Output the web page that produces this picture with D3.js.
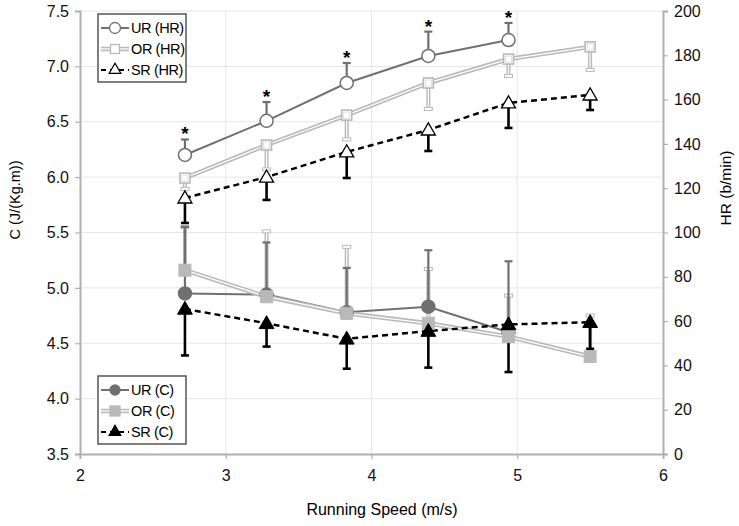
<!DOCTYPE html>
<html><head><meta charset="utf-8">
<script src="https://cdn.jsdelivr.net/npm/d3@7"></script>
<style>body{margin:0;background:#fff}svg{font-family:"Liberation Sans",Arial,Helvetica,sans-serif}</style>
</head><body>
<svg id="c" width="739" height="526"></svg>
<script>
const speeds = [2.72, 3.28, 3.83, 4.39, 4.94, 5.50];
const urHR = [135, 150.4, 167.5, 179.7, 186.9];
const urHRerr = [7, 8.5, 9, 11, 7.7];
const orHR = [124.6, 139.5, 153, 167.5, 178.3, 183.8];
const orHRerr = [5, 11, 11, 11.7, 7.6, 10.4];
const srHR = [115.6, 125, 136.4, 146.3, 158.5, 162.1];
const srHRerr = [11.3, 10.3, 11.8, 9.5, 11.3, 6.8];
const urC = [4.95, 4.94, 4.78, 4.83, 4.60];
const urCerr = [0.60, 0.47, 0.40, 0.51, 0.64];
const orC = [5.16, 4.92, 4.77, 4.68, 4.56, 4.38];
const orCerr = [0.39, 0.59, 0.60, 0.49, 0.37, 0.37];
const srC = [4.81, 4.68, 4.54, 4.61, 4.67, 4.69];
const srCerr = [0.42, 0.21, 0.27, 0.33, 0.43, 0.24];
const xTicks = [2, 3, 4, 5, 6];
const cTicks = [3.5, 4.0, 4.5, 5.0, 5.5, 6.0, 6.5, 7.0, 7.5];
const hrTicks = [0, 20, 40, 60, 80, 100, 120, 140, 160, 180, 200];

const svg = d3.select("#c");
const L = 80, R = 663, T = 11, B = 454;
const x = d3.scaleLinear().domain([2, 6]).range([L, R]);
const yC = d3.scaleLinear().domain([3.5, 7.5]).range([B, T]);
const yH = d3.scaleLinear().domain([0, 200]).range([B, T]);

const UR = "#707070", ORc = "#b9b9b9", SR = "#000";

// grid
const g = svg.append("g");
g.selectAll(".hg").data(cTicks.slice(1)).join("line")
  .attr("x1", L).attr("x2", R).attr("y1", d => yC(d)).attr("y2", d => yC(d))
  .attr("stroke", "#e6e6e6").attr("stroke-width", 1);
g.selectAll(".vg").data(xTicks.slice(1, -1)).join("line")
  .attr("x1", d => x(d)).attr("x2", d => x(d)).attr("y1", T).attr("y2", B)
  .attr("stroke", "#e6e6e6").attr("stroke-width", 1);

// axes
function styleAxis(sel) {
  sel.select(".domain").attr("stroke", "#b0b0b0").attr("stroke-width", 2);
  sel.selectAll(".tick line").attr("stroke", "#b0b0b0").attr("stroke-width", 1.2);
  sel.selectAll("text").attr("font-size", 16).attr("fill", "#111")
    .attr("font-family", "'Liberation Sans', Arial, sans-serif");
}
const axL = svg.append("g").attr("transform", `translate(${L},0)`)
  .call(d3.axisLeft(yC).tickValues(cTicks).tickFormat(d3.format(".1f")).tickSizeOuter(0).tickSize(5).tickPadding(6));
styleAxis(axL);
const axR = svg.append("g").attr("transform", `translate(${R},0)`)
  .call(d3.axisRight(yH).tickValues(hrTicks).tickSizeOuter(0).tickSize(5).tickPadding(6));
styleAxis(axR);
const axB = svg.append("g").attr("transform", `translate(0,${B})`)
  .call(d3.axisBottom(x).tickValues(xTicks).tickFormat(d3.format("d")).tickSizeOuter(0).tickSize(5).tickPadding(11));
styleAxis(axB);

// titles
svg.append("text").attr("transform", "translate(20,200) rotate(-90)").attr("text-anchor", "middle")
  .attr("font-size", 14.5).text("C (J/(Kg.m))");
svg.append("text").attr("transform", "translate(731,188) rotate(-90)").attr("text-anchor", "middle")
  .attr("font-size", 15.5).text("HR (b/min)");
svg.append("text").attr("x", 382).attr("y", 515).attr("text-anchor", "middle")
  .attr("font-size", 16).text("Running Speed (m/s)");

// helpers
function errBar(data, errs, yS, dir, style) {
  const gg = svg.append("g");
  data.forEach((v, i) => {
    const xi = x(speeds[i]);
    const y0 = yS(v), y1 = yS(v + dir * errs[i]);
    if (style === "double") {
      gg.append("line").attr("x1", xi).attr("x2", xi).attr("y1", y0).attr("y2", y1)
        .attr("stroke", ORc).attr("stroke-width", 4);
      gg.append("line").attr("x1", xi).attr("x2", xi).attr("y1", y0).attr("y2", y1)
        .attr("stroke", "#fff").attr("stroke-width", 1.2);
      gg.append("rect").attr("x", xi - 4).attr("y", y1 - 1.5).attr("width", 8).attr("height", 3)
        .attr("fill", "#fff").attr("stroke", ORc).attr("stroke-width", 1);
    } else {
      gg.append("line").attr("x1", xi).attr("x2", xi).attr("y1", y0).attr("y2", y1)
        .attr("stroke", style.c).attr("stroke-width", style.w);
      gg.append("line").attr("x1", xi - 4).attr("x2", xi + 4).attr("y1", y1).attr("y2", y1)
        .attr("stroke", style.c).attr("stroke-width", style.w);
    }
  });
}
function seriesLine(data, yS, kind) {
  const line = d3.line().x((d, i) => x(speeds[i])).y(d => yS(d));
  if (kind === "UR") {
    svg.append("path").attr("d", line(data)).attr("fill", "none").attr("stroke", UR).attr("stroke-width", 2);
  } else if (kind === "OR") {
    svg.append("path").attr("d", line(data)).attr("fill", "none").attr("stroke", ORc).attr("stroke-width", 4.5);
    svg.append("path").attr("d", line(data)).attr("fill", "none").attr("stroke", "#fff").attr("stroke-width", 1.3);
  } else {
    svg.append("path").attr("d", line(data)).attr("fill", "none").attr("stroke", SR)
      .attr("stroke-width", 2.5).attr("stroke-dasharray", "6,4");
  }
}
const tri = d3.symbol().type(d3.symbolTriangle);
function markers(data, yS, kind, filled) {
  const gg = svg.append("g");
  data.forEach((v, i) => {
    const xi = x(speeds[i]), yi = yS(v);
    if (kind === "UR") {
      gg.append("circle").attr("cx", xi).attr("cy", yi).attr("r", filled ? 6.5 : 6.5)
        .attr("fill", filled ? UR : "#fff").attr("stroke", UR).attr("stroke-width", 1.5);
    } else if (kind === "OR") {
      const s = filled ? 12 : 10;
      gg.append("rect").attr("x", xi - s / 2).attr("y", yi - s / 2).attr("width", s).attr("height", s)
        .attr("fill", filled ? ORc : "#fff").attr("stroke", ORc).attr("stroke-width", filled ? 1 : 1.6);
      if (!filled) gg.append("rect").attr("x", xi - s / 2 + 2).attr("y", yi - s / 2 + 2).attr("width", s - 4).attr("height", s - 4)
        .attr("fill", "none").attr("stroke", "#d8d8d8").attr("stroke-width", 0.8);
    } else {
      gg.append("path").attr("d", tri.size(filled ? 95 : 85)()).attr("transform", `translate(${xi},${yi + 1})`)
        .attr("fill", filled ? SR : "#fff").attr("stroke", SR).attr("stroke-width", filled ? 1 : 1.3);
    }
  });
}

// HR series
errBar(orHR, orHRerr, yH, -1, "double");
errBar(urHR, urHRerr, yH, 1, {c: UR, w: 2.2});
errBar(srHR, srHRerr, yH, -1, {c: SR, w: 2.6});
seriesLine(urHR, yH, "UR");
seriesLine(orHR, yH, "OR");
seriesLine(srHR, yH, "SR");
markers(urHR, yH, "UR", false);
markers(orHR, yH, "OR", false);
markers(srHR, yH, "SR", false);
// asterisks
svg.append("g").selectAll("text").data(urHR).join("text")
  .attr("x", (d, i) => x(speeds[i])).attr("y", (d, i) => yH(d + urHRerr[i]) + 1)
  .attr("text-anchor", "middle").attr("font-size", 19).attr("font-weight", "bold").text("*");

// C series
errBar(orC, orCerr, yC, 1, "double");
errBar(urC, urCerr, yC, 1, {c: UR, w: 2.2});
errBar(srC, srCerr, yC, -1, {c: SR, w: 2.6});
seriesLine(urC, yC, "UR");
seriesLine(orC, yC, "OR");
seriesLine(srC, yC, "SR");
markers(urC, yC, "UR", true);
markers(orC, yC, "OR", true);
markers(srC, yC, "SR", true);

// legends
function legend(y0, labels, filled) {
  const lg = svg.append("g");
  lg.append("rect").attr("x", 98).attr("y", y0).attr("width", 88).attr("height", 68)
    .attr("fill", "#fff").attr("stroke", "#555").attr("stroke-width", 1.5);
  const kinds = ["UR", "OR", "SR"];
  const offs = [14, 35, 56];
  kinds.forEach((k, i) => {
    const yy = y0 + offs[i];
    if (k === "UR") {
      lg.append("line").attr("x1", 101).attr("x2", 129).attr("y1", yy).attr("y2", yy).attr("stroke", UR).attr("stroke-width", 2);
      lg.append("circle").attr("cx", 115).attr("cy", yy).attr("r", filled ? 5 : 5.5)
        .attr("fill", filled ? UR : "#fff").attr("stroke", UR).attr("stroke-width", 1.3);
    } else if (k === "OR") {
      lg.append("line").attr("x1", 101).attr("x2", 129).attr("y1", yy).attr("y2", yy).attr("stroke", ORc).attr("stroke-width", 4.5);
      lg.append("line").attr("x1", 101).attr("x2", 129).attr("y1", yy).attr("y2", yy).attr("stroke", "#fff").attr("stroke-width", 1.3);
      const s = filled ? 10 : 9;
      lg.append("rect").attr("x", 115 - s / 2).attr("y", yy - s / 2).attr("width", s).attr("height", s)
        .attr("fill", filled ? ORc : "#fff").attr("stroke", ORc).attr("stroke-width", 1.3);
    } else {
      lg.append("line").attr("x1", 101).attr("x2", 129).attr("y1", yy).attr("y2", yy).attr("stroke", SR)
        .attr("stroke-width", 2).attr("stroke-dasharray", "5,4");
      lg.append("path").attr("d", tri.size(60)()).attr("transform", `translate(115,${yy})`)
        .attr("fill", filled ? SR : "#fff").attr("stroke", SR).attr("stroke-width", 1.2);
    }
    lg.append("text").attr("x", 131).attr("y", yy + 5).attr("font-size", 14.5).attr("letter-spacing", -0.4)
      .text(labels[i]);
  });
}
legend(14, ["UR (HR)", "OR (HR)", "SR (HR)"], false);
legend(376, ["UR (C)", "OR (C)", "SR (C)"], true);
</script>
</body></html>
